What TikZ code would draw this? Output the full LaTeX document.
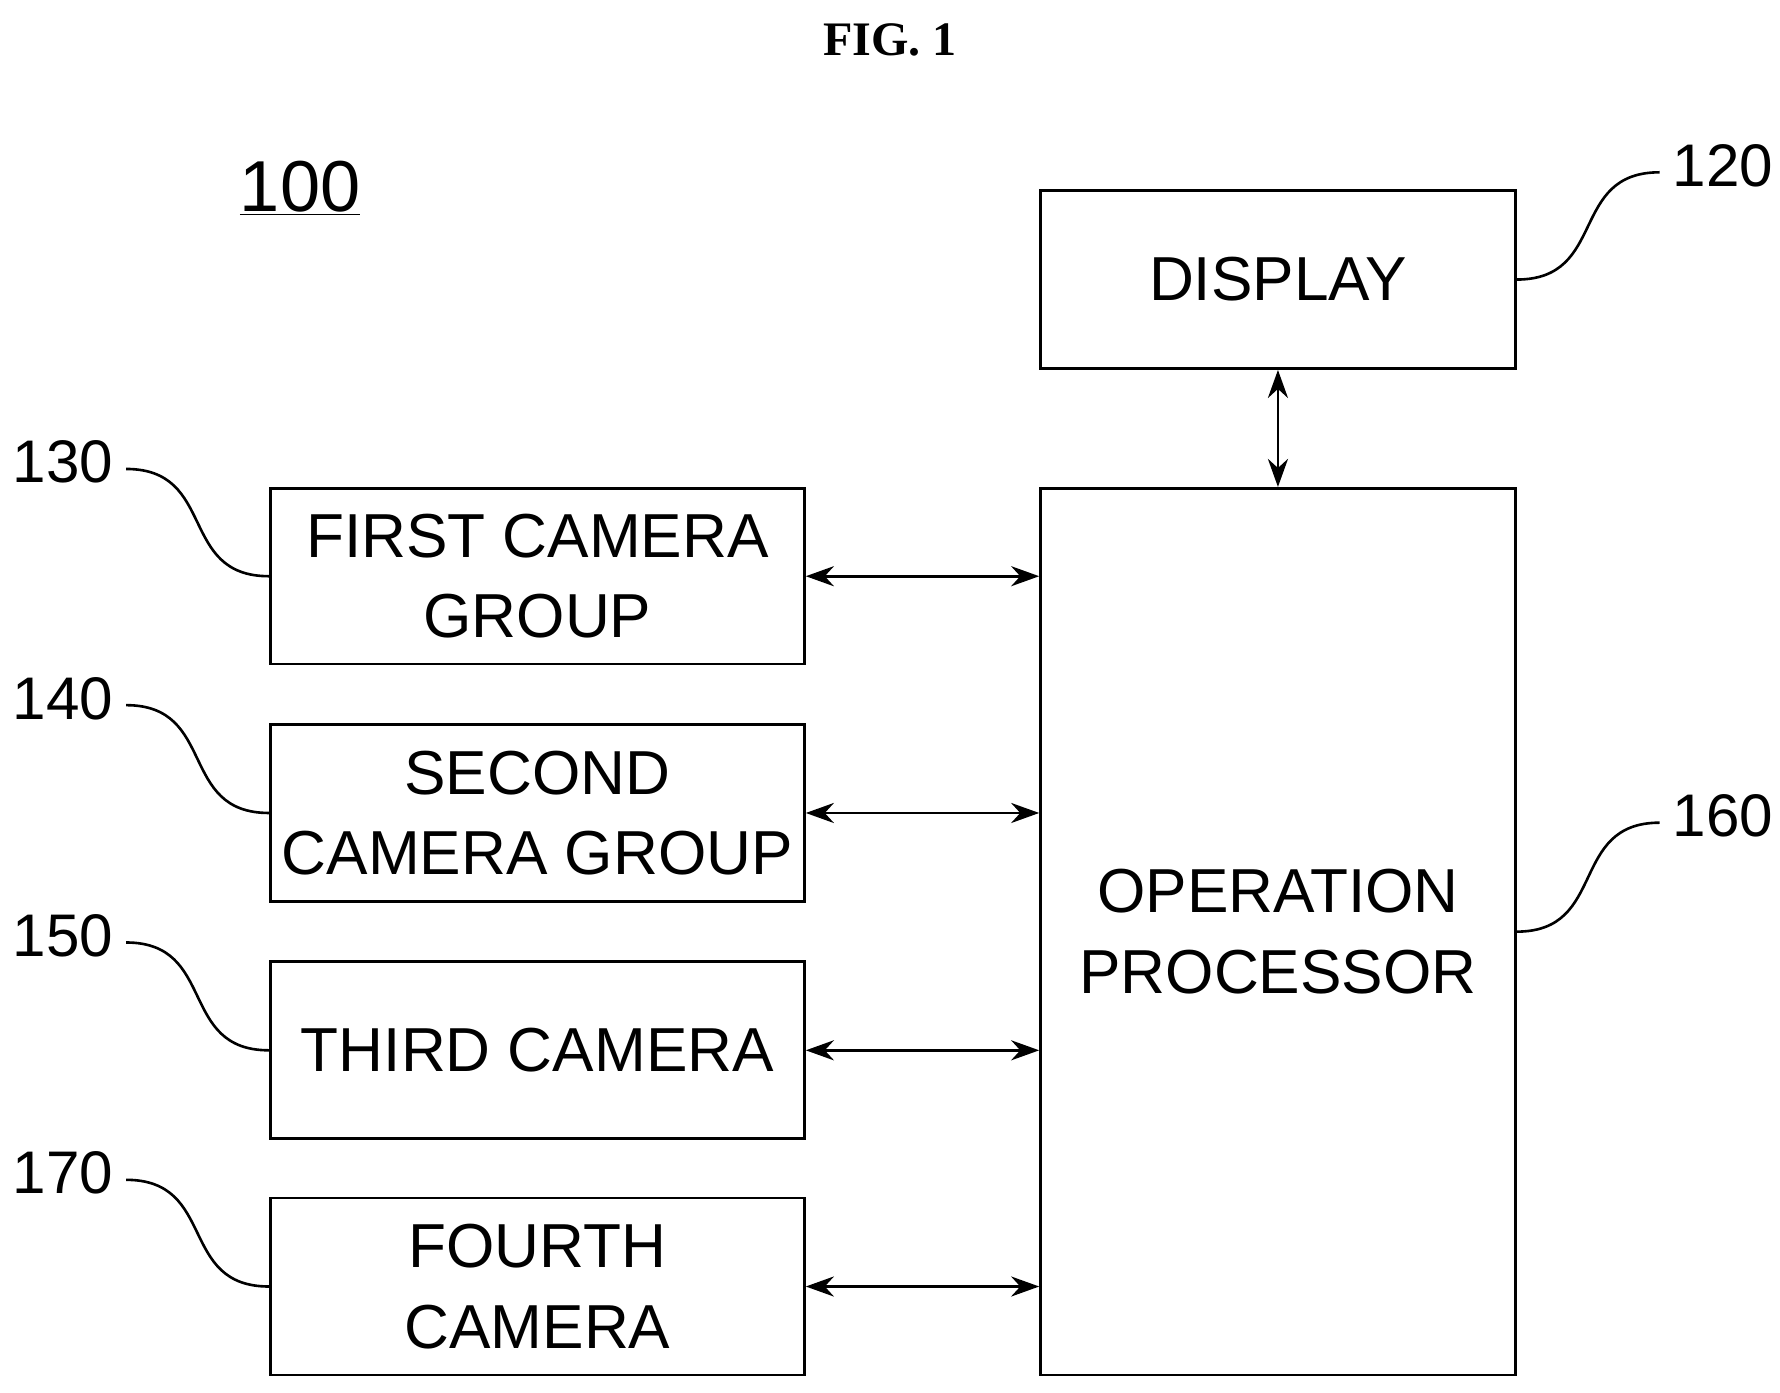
\documentclass[tikz,border=0pt]{standalone}
\usepackage{fontspec}
\setmainfont{Liberation Sans}
\newfontfamily\serifbf{Liberation Serif}
\usetikzlibrary{arrows.meta}
\begin{document}
\begin{tikzpicture}[x=0.02cm,y=-0.02cm,
  box/.style={draw,line width=1.4pt,inner sep=0pt,align=center,font=\fontsize{31}{40}\selectfont},
  conn/.style={line width=1.4pt,{Stealth[length=14pt,width=10pt]}-{Stealth[length=14pt,width=10pt]}},
  lead/.style={line width=1.3pt},
  num/.style={font=\fontsize{30}{36}\selectfont}]
\useasboundingbox (0,0) rectangle (1560,1220);
\node[font=\serifbf\bfseries\fontsize{24}{28}\selectfont] (fig) at (780,35) {FIG. 1};
\node[font=\fontsize{36}{40}\selectfont] (n100) at (263,165) {\underline{100}};
\node[box,minimum width=416*0.02cm,minimum height=156*0.02cm] (disp) at (1120,245) {DISPLAY};
\node[box,minimum width=416*0.02cm,minimum height=777*0.02cm] (op) at (1120,816.5) {OPERATION\\PROCESSOR};
\node[box,minimum width=468*0.02cm,minimum height=154*0.02cm] (c1) at (471,505) {FIRST CAMERA\\GROUP};
\node[box,minimum width=468*0.02cm,minimum height=155*0.02cm] (c2) at (471,712.5) {SECOND\\CAMERA GROUP};
\node[box,minimum width=468*0.02cm,minimum height=155*0.02cm] (c3) at (471,920.5) {THIRD CAMERA};
\node[box,minimum width=468*0.02cm,minimum height=155*0.02cm] (c4) at (471,1127.5) {FOURTH\\CAMERA};
\draw[conn] (c1.east) -- (c1.east -| op.west);
\draw[conn] (c2.east) -- (c2.east -| op.west);
\draw[conn] (c3.east) -- (c3.east -| op.west);
\draw[conn] (c4.east) -- (c4.east -| op.west);
\draw[conn] (disp.south) -- (op.north);
\node[num] (l130) at (55,405) {130};
\node[num] (l140) at (55,612) {140};
\node[num] (l150) at (55,820) {150};
\node[num] (l170) at (55,1028) {170};
\node[num] (l120) at (1510,145) {120};
\node[num] (l160) at (1510,715) {160};
\foreach \l/\b in {l130/c1,l140/c2,l150/c3,l170/c4}{
  \coordinate (s) at ([xshift=3pt,yshift=-0.12cm]\l.east);
  \draw[lead] (s) .. controls ([xshift=1.6cm]s) and ([xshift=-1.6cm]\b.west) .. (\b.west);
}
\foreach \l/\b in {l120/disp,l160/op}{
  \coordinate (s) at ([xshift=-3pt,yshift=-0.12cm]\l.west);
  \draw[lead] (s) .. controls ([xshift=-1.6cm]s) and ([xshift=1.6cm]\b.east) .. (\b.east);
}
\end{tikzpicture}
\end{document}
